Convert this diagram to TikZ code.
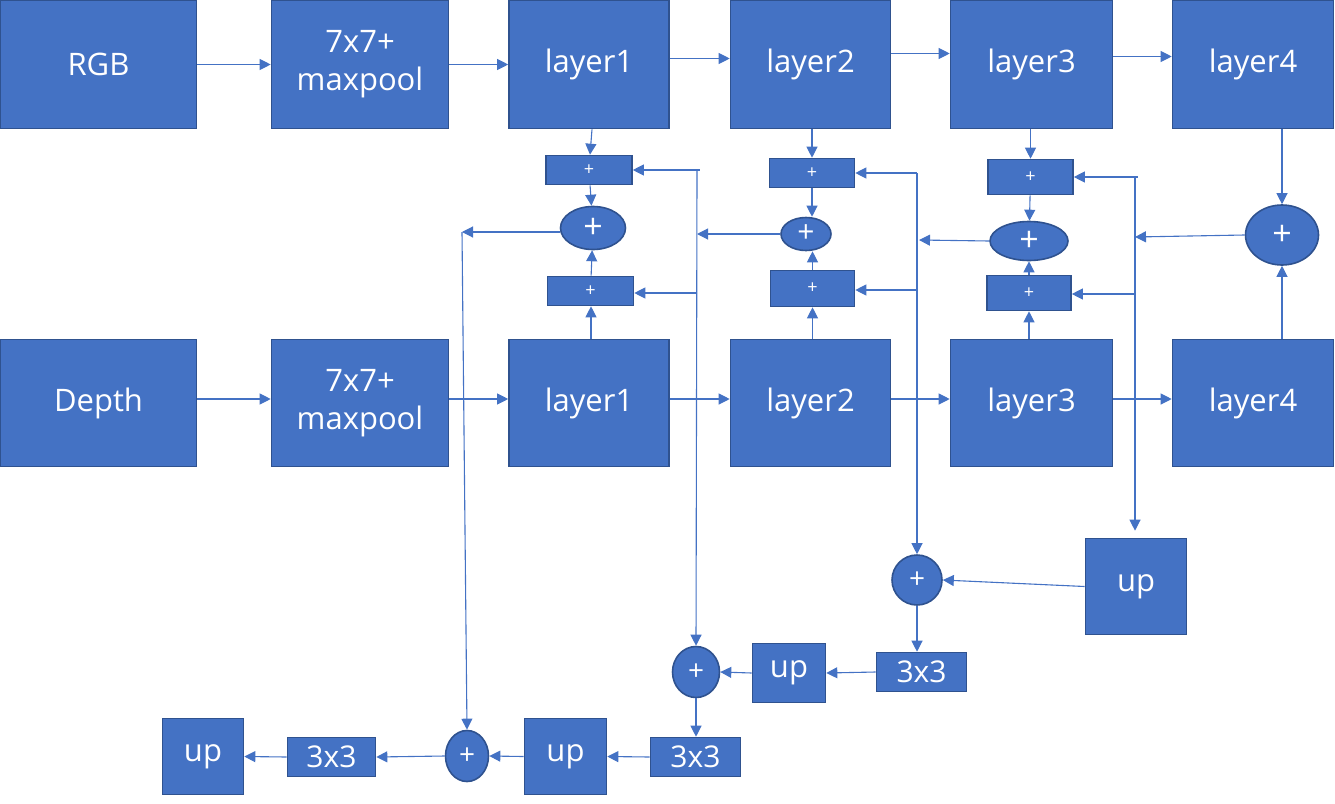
\documentclass[tikz,border=0pt]{standalone}
\usepackage{fontspec}
\setmainfont{Open Sans}
\usetikzlibrary{arrows.meta,shapes.geometric}
\definecolor{blu}{HTML}{4472C4}
\definecolor{bord}{HTML}{2F528F}
\tikzset{
  box/.style={draw=bord, fill=blu, line width=1.6pt, text=white, inner sep=0pt, align=center},
  big/.style={box, font=\fontsize{31}{38}\selectfont},
  mid/.style={box, font=\fontsize{30}{34}\selectfont},
  pbox/.style={box, font=\fontsize{18}{20}\selectfont},
  ell/.style={box, ellipse, font=\fontsize{34}{36}\selectfont},
  arr/.style={draw=blu, line width=1.1pt, -{Triangle[length=11pt,width=11pt]}},
  ln/.style={draw=blu, line width=1.1pt},
}
\begin{document}
\begin{tikzpicture}[x=1pt,y=-1pt]
\useasboundingbox (0,0) rectangle (1335,803);
% top row
\node[big, minimum width=196, minimum height=128] (rgb) at (98.5,64.5) {RGB};
\node[big, minimum width=177, minimum height=128] (mp1) at (360,64.5) {7x7+\\maxpool};
\node[big, minimum width=160, minimum height=128] (l1a) at (589,64.5) {layer1};
\node[big, minimum width=160, minimum height=128] (l2a) at (810.5,64.5) {layer2};
\node[big, minimum width=162, minimum height=128] (l3a) at (1031.5,64.5) {layer3};
\node[big, minimum width=161, minimum height=128] (l4a) at (1253,64.5) {layer4};
% bottom row
\node[big, minimum width=196, minimum height=127] (dep) at (98.5,403) {Depth};
\node[big, minimum width=177, minimum height=127] (mp2) at (360,403) {7x7+\\maxpool};
\node[big, minimum width=160, minimum height=127] (l1b) at (589,403) {layer1};
\node[big, minimum width=160, minimum height=127] (l2b) at (810.5,403) {layer2};
\node[big, minimum width=162, minimum height=127] (l3b) at (1031.5,403) {layer3};
\node[big, minimum width=161, minimum height=127] (l4b) at (1253,403) {layer4};
% fusion boxes
\node[pbox, minimum width=86, minimum height=29] (p1t) at (589,170) {+};
\node[pbox, minimum width=86, minimum height=29] (p1b) at (590.5,291) {+};
\node[ell, minimum width=65, minimum height=43] (e1) at (593,228) {+};
\node[pbox, minimum width=85, minimum height=29] (p2t) at (812,173) {+};
\node[pbox, minimum width=84, minimum height=36] (p2b) at (812.5,288.5) {+};
\node[ell, minimum width=50, minimum height=33, font=\fontsize{30}{32}\selectfont] (e2) at (806,234) {+};
\node[pbox, minimum width=85, minimum height=35] (p3t) at (1030.5,177) {+};
\node[pbox, minimum width=84, minimum height=35] (p3b) at (1029,293) {+};
\node[ell, minimum width=78, minimum height=39] (e3) at (1029,241) {+};
\node[ell, minimum width=73, minimum height=60] (e4) at (1282,235) {+};
% decoder
\node[big, minimum width=101, minimum height=96] (upR) at (1136,586.5) {up};
\node[ell, minimum width=50, minimum height=50, font=\fontsize{28}{30}\selectfont] (cR) at (917,580) {+};
\node[mid, minimum width=90, minimum height=39] (c3a) at (921.5,672) {3x3};
\node[big, minimum width=73, minimum height=59] (upM) at (789,673) {up};
\node[ell, minimum width=47, minimum height=51, font=\fontsize{28}{30}\selectfont] (cM) at (696,672) {+};
\node[mid, minimum width=90, minimum height=39] (c3b) at (695.5,757) {3x3};
\node[big, minimum width=82, minimum height=76] (upL2) at (565.5,756.5) {up};
\node[ell, minimum width=43, minimum height=51, font=\fontsize{28}{30}\selectfont] (eL) at (467,756) {+};
\node[mid, minimum width=88, minimum height=39] (c3c) at (331.5,757) {3x3};
\node[big, minimum width=81, minimum height=76] (upL) at (203,756.5) {up};
% junction coordinates
\coordinate (jL) at (462,232);
\coordinate (j1a) at (697,170);
\coordinate (j1b) at (697,293);
\coordinate (j1m) at (697,234);
\coordinate (j2a) at (917,173);
\coordinate (j2b) at (917,290);
\coordinate (j2m) at (919,240);
\coordinate (j3a) at (1135,177);
\coordinate (j3b) at (1135,294);
\coordinate (j3m) at (1135,237);
% top chain
\draw[arr] (rgb) -- (mp1);
\draw[arr] (mp1) -- (l1a);
\draw[arr] ([yshift=6]l1a.east) -- ([yshift=6]l2a.west);
\draw[arr] ([yshift=11]l2a.east) -- ([yshift=11]l3a.west);
\draw[arr] ([yshift=8]l3a.east) -- ([yshift=8]l4a.west);
% bottom chain
\draw[arr] ([yshift=4]dep.east) -- ([yshift=4]mp2.west);
\draw[arr] ([yshift=4]mp2.east) -- ([yshift=4]l1b.west);
\draw[arr] ([yshift=4]l1b.east) -- ([yshift=4]l2b.west);
\draw[arr] ([yshift=4]l2b.east) -- ([yshift=4]l3b.west);
\draw[arr] ([yshift=4]l3b.east) -- ([yshift=4]l4b.west);
% column 1
\draw[arr] ([xshift=3]l1a.south) -- ([xshift=1]p1t.north);
\draw[arr] (p1t) -- (e1);
\draw[arr] ([xshift=2]l1b.north) -- ([xshift=2]l1b.north |- p1b.south);
\draw[arr] (p1b) -- (e1);
% column 2
\draw[arr] (l2a.south -| p2t.north) -- (p2t.north);
\draw[arr] (p2t.south) -- (p2t.south |- e2.north);
\draw[arr] (l2b.north -| p2b.south) -- (p2b.south);
\draw[arr] (p2b.north) -- (p2b.north |- e2.south);
% column 3
\draw[arr] (l3a.south -| p3t.north) -- (p3t.north);
\draw[arr] (p3t) -- (e3);
\draw[arr] (l3b.north -| p3b.south) -- (p3b.south);
\draw[arr] (p3b) -- (e3);
% column 4
\draw[arr] (l4a.south -| e4.north) -- (e4.north);
\draw[arr] (l4b.north -| e4.south) -- (e4.south);
% side feeds
\draw[arr] (e1.west |- jL) -- (jL);
\draw[arr] (jL) -- (eL.north);
\draw[ln] (j1a) -- +(3,0);
\draw[arr] (j1a) -- (cM.north);
\draw[arr] (j1a) -- (p1t.east);
\draw[arr] (j1b) -- (j1b -| p1b.east);
\draw[arr] (e2.west) -- (j1m);
\draw[arr] (j2a) -- (cR.north);
\draw[arr] (j2a) -- (p2t.east);
\draw[arr] (j2b) -- (p2b.east |- j2b);
\draw[arr] (e3.west) -- (j2m);
\draw[ln] (j3a) -- +(3,0);
\draw[arr, shorten >=7pt] (j3a) -- (j3a |- upR.north);
\draw[arr] (j3a) -- (p3t.east);
\draw[arr] (j3b) -- (p3b.east |- j3b);
\draw[arr] (e4.west) -- (j3m);
% decoder chain
\draw[arr] (upR.west) -- (cR.east);
\draw[arr] (cR.south) -- (cR.south |- c3a.north);
\draw[arr] (c3a.west) -- (upM.east);
\draw[arr] (upM.west) -- (cM.east);
\draw[arr] (cM.south) -- (cM.south |- c3b.north);
\draw[arr] (c3b.west) -- (upL2.east);
\draw[arr] (upL2.west) -- (eL.east);
\draw[arr] (eL.west) -- (c3c.east);
\draw[arr] (c3c.west) -- (upL.east);
\end{tikzpicture}
\end{document}
